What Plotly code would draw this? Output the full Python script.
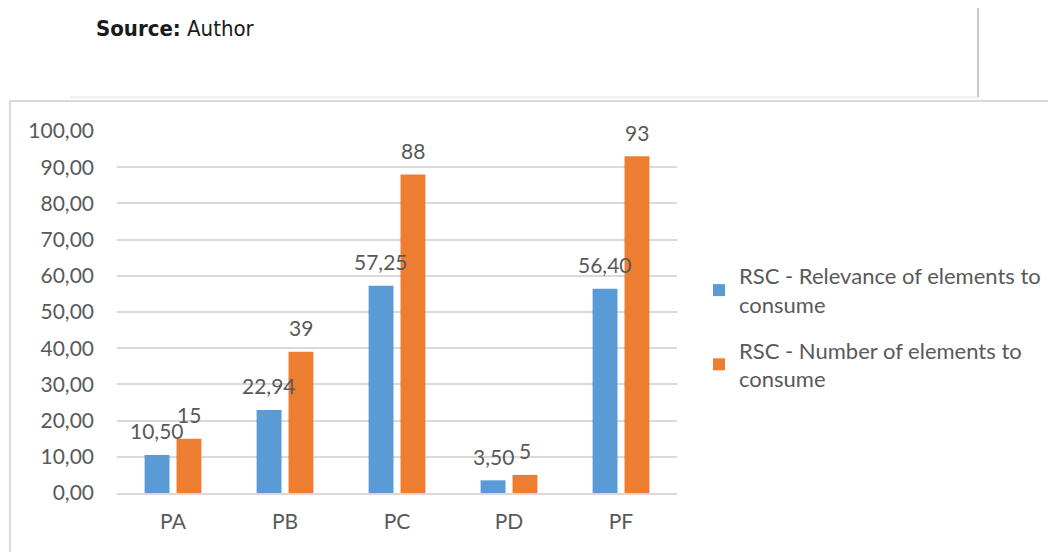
import plotly.graph_objects as go

categories = ["PA", "PB", "PC", "PD", "PF"]
relevance = [10.50, 22.94, 57.25, 3.50, 56.40]
number = [15, 39, 88, 5, 93]
series_names = ["RSC - Relevance of elements to<br>consume", "RSC - Number of elements to<br>consume"]
y_ticks = [0, 10, 20, 30, 40, 50, 60, 70, 80, 90, 100]

OFF = 8  # default page body margin
W, H = 1056 - OFF, 552 - OFF
L, R, T, B = 117 - OFF, 677 - OFF, 131 - OFF, 493 - OFF
FONT = "Lato, Open Sans, sans-serif"
TXT = "#595959"
BLUE, ORANGE = "#5B9BD5", "#ED7D31"


def px(x):
    return (x - OFF - L) / (R - L)


def py(y):
    return (B - (y - OFF)) / (B - T)


fig = go.Figure()
fig.add_trace(go.Bar(x=categories, y=relevance, name=series_names[0], legendgroup="a",
                     marker=dict(color=BLUE, line=dict(width=0))))
fig.add_trace(go.Bar(x=categories, y=number, name=series_names[1], legendgroup="b",
                     marker=dict(color=ORANGE, line=dict(width=0))))

annotations = []
for cat, v in zip(categories, relevance):
    annotations.append(dict(x=cat, y=v, xref="x", yref="y", xshift=-16, yshift=24,
                            text=f"{v:.2f}".replace(".", ","), showarrow=False,
                            xanchor="center", yanchor="middle",
                            font=dict(family=FONT, size=21, color=TXT)))
for cat, v in zip(categories, number):
    annotations.append(dict(x=cat, y=v, xref="x", yref="y", xshift=16, yshift=24,
                            text=str(v), showarrow=False,
                            xanchor="center", yanchor="middle",
                            font=dict(family=FONT, size=21, color=TXT)))
annotations.append(dict(xref="paper", yref="paper", x=px(94), y=py(28), xanchor="left", yanchor="middle",
                        showarrow=False, text="<b>Source:</b> Author",
                        font=dict(family="DejaVu Sans Condensed, Liberation Sans Narrow, Liberation Sans, sans-serif",
                                  size=22, color="#1a1a1a")))

shapes = [
    dict(type="line", xref="paper", yref="paper", x0=px(978), x1=px(978), y0=py(3), y1=py(97),
         line=dict(color="#c8c8c8", width=2)),
    dict(type="line", xref="paper", yref="paper", x0=px(70), x1=px(978), y0=py(97.5), y1=py(97.5),
         line=dict(color="#ebebeb", width=2)),
    dict(type="line", xref="paper", yref="paper", x0=px(9), x1=px(1070), y0=py(101), y1=py(101),
         line=dict(color="#d9d9d9", width=2)),
    dict(type="line", xref="paper", yref="paper", x0=px(10), x1=px(10), y0=py(101), y1=py(570),
         line=dict(color="#d9d9d9", width=2)),
]

fig.update_layout(
    width=W, height=H,
    margin=dict(l=L, r=W - R, t=T, b=H - B, pad=0, autoexpand=False),
    paper_bgcolor="white", plot_bgcolor="white",
    separators=", ",
    barmode="group", bargap=0.43, bargroupgap=0.22,
    font=dict(family=FONT, color=TXT, size=21),
    showlegend=True,
    legend=dict(x=px(699), y=py(255), xanchor="left", yanchor="top",
                font=dict(family=FONT, size=22, color=TXT),
                tracegroupgap=14, itemwidth=30, bgcolor="rgba(0,0,0,0)"),
    shapes=shapes,
    annotations=annotations,
)
fig.update_yaxes(range=[0, 100], tickvals=y_ticks, tickformat=".2f",
                 showgrid=True, gridcolor="#d9d9d9", gridwidth=2, zeroline=False,
                 showline=False, ticks="", ticklabelstandoff=22,
                 tickfont=dict(family=FONT, size=21, color=TXT))
fig.update_xaxes(showgrid=False, showline=True, linecolor="#d9d9d9", linewidth=2,
                 ticks="", ticklabelstandoff=9,
                 tickfont=dict(family=FONT, size=21, color=TXT))

fig.write_html("out.html")
